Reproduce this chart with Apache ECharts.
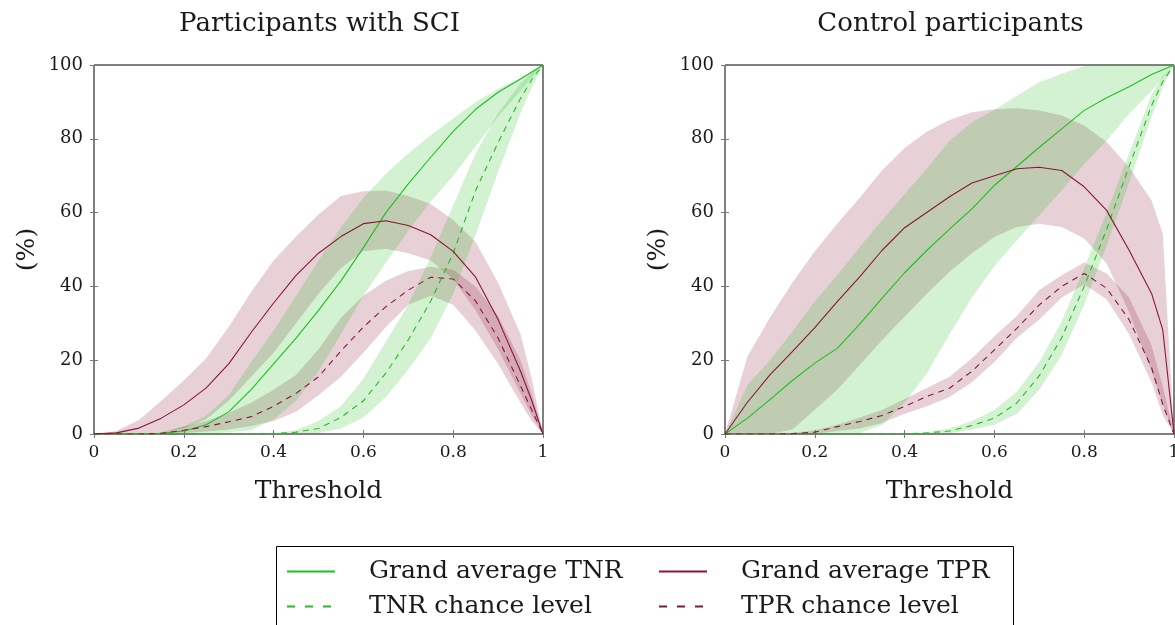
<!DOCTYPE html>
<html>
<head>
<meta charset="utf-8">
<script src="https://cdn.jsdelivr.net/npm/echarts@6/dist/echarts.min.js"></script>
<style>
html,body{margin:0;padding:0;background:#fff;}
#c{width:1175px;height:625px;}
</style>
</head>
<body>
<div id="c"></div>
<script>
// ---- data ----
const thresholds = [0, 0.05, 0.1, 0.15, 0.2, 0.25, 0.3, 0.35, 0.4, 0.45, 0.5, 0.55, 0.6, 0.65, 0.7, 0.75, 0.8, 0.85, 0.9, 0.95, 0.975, 1];

// Participants with SCI
const sciTNR      = [0, 0, 0, 0.2, 0.8, 2.5, 6, 12, 19, 26, 33.5, 41.5, 50.5, 60, 67.8, 75, 82, 88, 92.6, 96.2, 98.1, 100];
const sciTNRUp    = [0, 0, 0, 0.4, 2, 5, 10.5, 19.5, 28, 37.5, 47, 56, 64, 70.5, 76, 81, 85.5, 90, 93.5, 96.5, 98.3, 100];
const sciTNRLo    = [0, 0, 0, 0, 0, 0, 0.5, 1, 4, 9, 17, 27, 37.5, 46.5, 55, 63, 70, 78, 86, 93, 96.5, 100];
const sciTNRch    = [0, 0, 0, 0, 0, 0, 0, 0, 0.1, 0.5, 1.5, 4.5, 9, 16.5, 25.5, 36, 49, 66, 79, 91, 96, 100];
const sciTNRchUp  = [0, 0, 0, 0, 0, 0, 0, 0, 0.2, 1, 3.5, 7.5, 15, 25, 35, 48, 62, 76, 87, 95, 98, 100];
const sciTNRchLo  = [0, 0, 0, 0, 0, 0, 0, 0, 0, 0, 0.3, 1.5, 4.5, 10, 17.5, 26, 38, 54, 71, 87, 94, 100];
const sciTPR      = [0, 0.3, 1.6, 4.3, 7.9, 12.5, 19, 27.5, 35.5, 43, 49, 53.5, 57, 57.8, 56.5, 54, 49.5, 42.5, 31, 17, 9, 0];
const sciTPRUp    = [0, 0.8, 3.8, 9, 14.5, 20.5, 29, 38.5, 47, 53.5, 59.5, 64.5, 65.8, 66, 64.5, 62.3, 58, 52, 41, 27, 15, 0];
const sciTPRLo    = [0, 0, 0, 0.5, 1.5, 4, 9, 15.5, 22, 30, 38, 45, 49.5, 50.2, 49, 47, 42, 33.5, 23, 11, 5, 0];
const sciTPRch    = [0, 0, 0, 0.2, 1, 2, 3.3, 4.7, 7.5, 11, 15.5, 22.5, 29, 34.5, 39, 42.5, 42, 36, 26, 13, 6.5, 0];
const sciTPRchUp  = [0, 0, 0, 0.5, 2, 3.5, 5.7, 8.5, 12, 16, 23, 31.5, 37.5, 41.5, 44.2, 45.3, 44.5, 40, 32, 20, 11, 0];
const sciTPRchLo  = [0, 0, 0, 0, 0.3, 0.7, 1.2, 2.2, 3.5, 6, 10.5, 15.5, 22, 29, 35, 37.5, 35, 28, 19, 8.5, 3.5, 0];

// Control participants
const ctlTNR      = [0, 4.3, 9.3, 14.5, 19.2, 23.2, 29.8, 36.8, 43.7, 49.8, 55.5, 61, 67.4, 72.5, 77.7, 82.7, 87.7, 91.1, 94.1, 97.4, 98.7, 100];
const ctlTNRUp    = [0, 13.3, 20, 27.7, 36, 43, 50.7, 58, 65, 72, 79.5, 84.5, 87.8, 91.7, 95.3, 97.6, 99.7, 100, 100, 100, 100, 100];
const ctlTNRLo    = [0, 0, 0, 0, 0, 0, 0.3, 2.5, 8.5, 16.5, 27, 37, 45.5, 52.5, 59.3, 66, 73.2, 79.5, 86.8, 93, 96.5, 100];
const ctlTNRch    = [0, 0, 0, 0, 0, 0, 0, 0, 0, 0.3, 0.8, 2.3, 4.3, 8.4, 15.8, 26.1, 40, 55.5, 72.5, 89, 95.5, 100];
const ctlTNRchUp  = [0, 0, 0, 0, 0, 0, 0, 0, 0, 0.5, 1.5, 3.5, 6.5, 11.5, 19.5, 30.5, 45, 60, 76, 92, 97, 100];
const ctlTNRchLo  = [0, 0, 0, 0, 0, 0, 0, 0, 0, 0, 0.2, 1.2, 2.5, 5.5, 12, 21.5, 35, 51, 68, 86, 94, 100];
const ctlTPR      = [0, 8.6, 16, 22.3, 28.8, 35.9, 42.6, 49.8, 55.9, 60.1, 64.3, 68, 70, 71.9, 72.3, 71.4, 67, 60.6, 49.8, 38.1, 28.2, 0];
const ctlTPRUp    = [0, 21, 31.5, 41, 49.5, 57, 64, 71.5, 77.5, 82, 85.1, 87.2, 88, 88.3, 87.7, 86.3, 83.6, 79.1, 72.3, 63.3, 54.3, 0];
const ctlTPRLo    = [0, 0, 0, 1.2, 6.6, 12, 18.7, 25.5, 31.8, 38.1, 44, 49, 53.4, 56.1, 57, 56.1, 53, 46.2, 33, 17, 8, 0];
const ctlTPRch    = [0, 0, 0, 0.1, 0.5, 2, 3.4, 5, 7.5, 10.2, 12.4, 17, 22.8, 28.6, 35, 40, 43.5, 39.5, 31, 18, 8, 0];
const ctlTPRchUp  = [0, 0, 0, 0.3, 1, 2.5, 4.5, 6.5, 9.5, 12.5, 15.5, 20.5, 26.5, 32, 39, 43, 46.5, 43.5, 37, 24, 13, 0];
const ctlTPRchLo  = [0, 0, 0, 0, 0, 0.8, 1.5, 3, 5.5, 7.5, 10, 14, 19.5, 26, 31, 37, 40.5, 36.5, 27, 14, 5, 0];

const panelTitles = ['Participants with SCI', 'Control participants'];
const legendNames = ['Grand average TNR', 'TNR chance level', 'Grand average TPR', 'TPR chance level'];

// ---- styling ----
const GREEN = '#1fbf1f';
const GREEN_BAND = 'rgba(31,191,31,0.2)';
const MAROON = '#8a1538';
const MAROON_BAND = 'rgba(138,21,56,0.2)';
const FONT = 'DejaVu Serif';
const TXT = '#1a1a1a';

function pairs(ys) { return thresholds.map((x, i) => [x, ys[i]]); }

function bandSeries(idx, lo, hi, fill) {
  return {
    type: 'custom', xAxisIndex: idx * 2, yAxisIndex: idx * 2, silent: true, z: 1, animation: false,
    clip: true,
    data: thresholds.map((x, i) => [x, lo[i], hi[i]]),
    encode: { x: 0, y: [1, 2] },
    renderItem: function (params, api) {
      if (params.dataIndex !== 0) return null;
      const pts = [];
      for (let i = 0; i < thresholds.length; i++) pts.push(api.coord([thresholds[i], hi[i]]));
      for (let i = thresholds.length - 1; i >= 0; i--) pts.push(api.coord([thresholds[i], lo[i]]));
      return { type: 'polygon', shape: { points: pts }, style: { fill: fill, stroke: null } };
    }
  };
}

function lineSeries(idx, name, ys, color, dashed) {
  return {
    type: 'line', name: name, xAxisIndex: idx * 2, yAxisIndex: idx * 2,
    data: pairs(ys), symbol: 'none', showSymbol: false, z: 3, animation: false,
    lineStyle: { color: color, width: 1.1, type: dashed ? [6, 5] : 'solid' },
    itemStyle: { color: color }
  };
}

const panels = [
  { tnr: sciTNR, tnrUp: sciTNRUp, tnrLo: sciTNRLo, tnrCh: sciTNRch, tnrChUp: sciTNRchUp, tnrChLo: sciTNRchLo,
    tpr: sciTPR, tprUp: sciTPRUp, tprLo: sciTPRLo, tprCh: sciTPRch, tprChUp: sciTPRchUp, tprChLo: sciTPRchLo },
  { tnr: ctlTNR, tnrUp: ctlTNRUp, tnrLo: ctlTNRLo, tnrCh: ctlTNRch, tnrChUp: ctlTNRchUp, tnrChLo: ctlTNRchLo,
    tpr: ctlTPR, tprUp: ctlTPRUp, tprLo: ctlTPRLo, tprCh: ctlTPRch, tprChUp: ctlTPRchUp, tprChLo: ctlTPRchLo }
];

const gridPos = [{ left: 94, top: 65, width: 449, height: 369 }, { left: 725, top: 65, width: 449, height: 369 }];

const grids = [], xAxes = [], yAxes = [], series = [], titles = [];
panels.forEach((p, i) => {
  grids.push(Object.assign({
    show: true, borderColor: '#000', borderWidth: 1, backgroundColor: 'transparent',
    containLabel: false, outerBoundsMode: 'none'
  }, gridPos[i]));
  const tick = { show: true, inside: true, length: 4, lineStyle: { color: '#777', width: 1 } };
  xAxes.push({
    type: 'value', gridIndex: i, min: 0, max: 1, interval: 0.2, position: 'bottom',
    axisLine: { show: false }, axisTick: tick, splitLine: { show: false },
    axisLabel: { fontFamily: FONT, fontSize: 17, color: TXT, margin: 10, formatter: v => String(+v.toFixed(1)) },
    name: 'Threshold', nameLocation: 'middle', nameGap: 45,
    nameTextStyle: { fontFamily: FONT, fontSize: 25, color: TXT }
  });
  xAxes.push({
    type: 'value', gridIndex: i, min: 0, max: 1, interval: 0.2, position: 'top',
    axisLine: { show: false }, axisTick: tick, splitLine: { show: false }, axisLabel: { show: false }
  });
  yAxes.push({
    type: 'value', gridIndex: i, min: 0, max: 100, interval: 20, position: 'left',
    axisLine: { show: false }, axisTick: tick, splitLine: { show: false },
    axisLabel: { fontFamily: FONT, fontSize: 18, color: TXT, margin: 11 },
    name: '(%)', nameLocation: 'middle', nameGap: 54, nameRotate: 90,
    nameTextStyle: { fontFamily: FONT, fontSize: 25, color: TXT }
  });
  yAxes.push({
    type: 'value', gridIndex: i, min: 0, max: 100, interval: 20, position: 'right',
    axisLine: { show: false }, axisTick: tick, splitLine: { show: false }, axisLabel: { show: false }
  });
  series.push(bandSeries(i, p.tprLo, p.tprUp, MAROON_BAND));
  series.push(bandSeries(i, p.tprChLo, p.tprChUp, MAROON_BAND));
  series.push(bandSeries(i, p.tnrLo, p.tnrUp, GREEN_BAND));
  series.push(bandSeries(i, p.tnrChLo, p.tnrChUp, GREEN_BAND));
  series.push(lineSeries(i, legendNames[0], p.tnr, GREEN, false));
  series.push(lineSeries(i, legendNames[1], p.tnrCh, GREEN, true));
  series.push(lineSeries(i, legendNames[2], p.tpr, MAROON, false));
  series.push(lineSeries(i, legendNames[3], p.tprCh, MAROON, true));
  titles.push({
    text: panelTitles[i], left: gridPos[i].left + gridPos[i].width / 2 - 4, top: 6, textAlign: 'center',
    textStyle: { fontFamily: FONT, fontSize: 26, fontWeight: 'normal', color: TXT }
  });
});

const legendText = { fontFamily: FONT, fontSize: 25, color: TXT, lineHeight: 25, padding: [0, 0, 0, 29] };
function legendItem(name, dashed) {
  return dashed ? { name: name, lineStyle: { type: [8, 10] } } : { name: name };
}
const legends = [
  { data: [legendItem(legendNames[0], false), legendItem(legendNames[1], true)], left: 286, top: 559 },
  { data: [legendItem(legendNames[2], false), legendItem(legendNames[3], true)], left: 658, top: 559 }
].map(l => Object.assign({
  orient: 'vertical', itemWidth: 48, itemHeight: 12, itemGap: 10, padding: 0,
  textStyle: legendText, selectedMode: false,
  itemStyle: { opacity: 0 }
}, l));

const chart = echarts.init(document.getElementById('c'), null, { renderer: 'canvas' });
chart.setOption({
  animation: false,
  backgroundColor: '#fff',
  title: titles,
  grid: grids,
  xAxis: xAxes,
  yAxis: yAxes,
  legend: legends,
  series: series,
  graphic: [{
    type: 'rect', shape: { x: 276.5, y: 546.5, width: 737, height: 120 },
    style: { fill: 'none', stroke: '#000', lineWidth: 1 }, z: 10
  }]
});
</script>
</body>
</html>
